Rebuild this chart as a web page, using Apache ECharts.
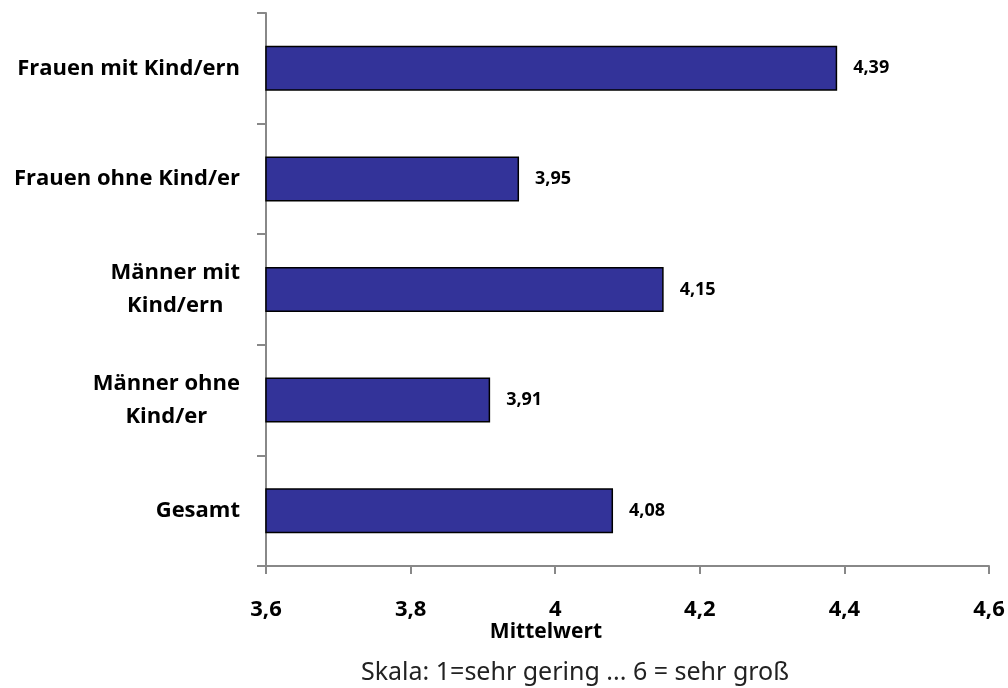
<!DOCTYPE html>
<html>
<head>
<meta charset="utf-8">
<script src="https://cdn.jsdelivr.net/npm/echarts@6/dist/echarts.min.js"></script>
<style>
html,body{margin:0;padding:0;background:#fff;}
#chart{width:1008px;height:688px;}
</style>
</head>
<body>
<div id="chart"></div>
<script>
const categories = ["Frauen mit Kind/ern", "Frauen ohne Kind/er", "Männer mit\nKind/ern", "Männer ohne\nKind/er", "Gesamt"];
const values = [4.39, 3.95, 4.15, 3.91, 4.08];
const axisMin = 3.6, axisMax = 4.6, axisStep = 0.2;
const xTitle = "Mittelwert";
const footnote = "Skala: 1=sehr gering ... 6 = sehr groß";

const fmt = v => String(Math.round(v * 100) / 100).replace('.', ',');

const chart = echarts.init(document.getElementById('chart'), null, {renderer: 'canvas'});
chart.setOption({
  animation: false,
  backgroundColor: '#ffffff',
  grid: {left: 266, right: 19, top: 13, bottom: 122, containLabel: false},
  title: [
    {text: xTitle, left: 541, top: 617, textAlign: 'center',
     textStyle: {fontFamily: 'Open Sans', fontWeight: 'bold', fontSize: 21, color: '#000'}},
    {text: footnote, left: 570, top: 655, textAlign: 'center',
     textStyle: {fontFamily: 'Noto Sans', fontWeight: 'normal', fontSize: 25, color: '#222'}}
  ],
  xAxis: {
    type: 'value', min: axisMin, max: axisMax, interval: axisStep,
    splitLine: {show: false},
    axisLine: {show: true, lineStyle: {color: '#888888', width: 2}},
    axisTick: {show: true, length: 8, lineStyle: {color: '#888888', width: 2}},
    axisLabel: {margin: 33, formatter: fmt, fontFamily: 'Open Sans', fontWeight: 'bold', fontSize: 22, color: '#000'}
  },
  yAxis: {
    type: 'category', data: categories, inverse: true,
    axisLine: {show: true, lineStyle: {color: '#888888', width: 2}},
    axisTick: {show: true, length: 9, lineStyle: {color: '#888888', width: 2}},
    axisLabel: {
      margin: 26, align: 'right',
      formatter: v => v.split('\n').map(s => '{c|' + s + '}').join('\n'),
      rich: {c: {align: 'center', fontFamily: 'Open Sans', fontWeight: 'bold', fontSize: 22, color: '#000', lineHeight: 33}}
    }
  },
  series: [{
    type: 'bar', data: values, barWidth: 45,
    itemStyle: {color: '#333399', borderColor: '#000000', borderWidth: 1.5},
    label: {show: true, position: 'right', distance: 16, formatter: p => fmt(p.value),
      fontFamily: 'Open Sans', fontWeight: 'bold', fontSize: 18, color: '#000'}
  }]
});
</script>
</body>
</html>
